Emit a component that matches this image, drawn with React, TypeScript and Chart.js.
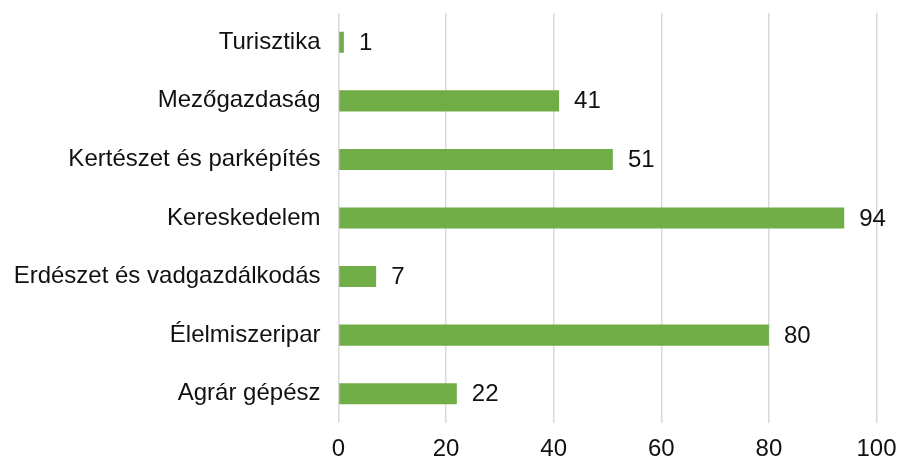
import React, { useEffect, useRef } from "react";
import { Chart, registerables } from "chart.js";

Chart.register(...registerables);

const categories = [
  "Turisztika",
  "Mezőgazdaság",
  "Kertészet és parképítés",
  "Kereskedelem",
  "Erdészet és vadgazdálkodás",
  "Élelmiszeripar",
  "Agrár gépész",
];
const values = [1, 41, 51, 94, 7, 80, 22];
const xMin = 0;
const xMax = 100;
const xStep = 20;

const FONT = "'Liberation Sans', Arial, sans-serif";
const FS = 24;

const valueLabels = {
  id: "valueLabels",
  afterDatasetsDraw(chart: any) {
    const ctx = chart.ctx;
    const meta = chart.getDatasetMeta(0);
    ctx.save();
    ctx.font = `${FS}px ${FONT}`;
    ctx.fillStyle = "#111";
    ctx.textAlign = "left";
    ctx.textBaseline = "middle";
    meta.data.forEach((bar: any, i: number) => {
      ctx.fillText(String(values[i]), bar.x + 15, bar.y + 1);
    });
    ctx.restore();
  },
};

export default function App() {
  const ref = useRef<HTMLCanvasElement>(null);
  useEffect(() => {
    const chart = new Chart(ref.current!, {
      type: "bar",
      data: {
        labels: categories,
        datasets: [
          {
            data: values,
            backgroundColor: "#70ad47",
            borderWidth: 0,
            barPercentage: 0.72,
            categoryPercentage: 0.5,
          },
        ],
      },
      options: {
        indexAxis: "y",
        animation: false,
        responsive: false,
        maintainAspectRatio: false,
        layout: { padding: { top: 13, right: 21.5, left: 0, bottom: 0 } },
        plugins: { legend: { display: false }, tooltip: { enabled: false } },
        scales: {
          x: {
            min: xMin,
            max: xMax,
            ticks: {
              stepSize: xStep,
              color: "#111",
              font: { family: FONT, size: FS },
              padding: 12,
            },
            grid: { color: "#d9d9d9", lineWidth: 1.5, drawTicks: false },
            border: { display: false },
            afterFit: (scale: any) => {
              scale.height = 39;
              scale.paddingLeft = 0;
              scale.paddingRight = 0;
            },
          },
          y: {
            ticks: {
              color: "#111",
              font: { family: FONT, size: FS },
              padding: 18,
            },
            grid: { display: false, drawTicks: false },
            border: { display: false },
            afterFit: (scale: any) => {
              scale.width = 338.5;
              scale.paddingTop = 0;
              scale.paddingBottom = 0;
            },
          },
        },
      },
      plugins: [valueLabels],
    });
    return () => chart.destroy();
  }, []);
  return (
    <div style={{ position: "fixed", left: 0, top: 0, width: 898, height: 462, background: "#fff" }}>
      <canvas ref={ref} width={898} height={462} />
    </div>
  );
}
